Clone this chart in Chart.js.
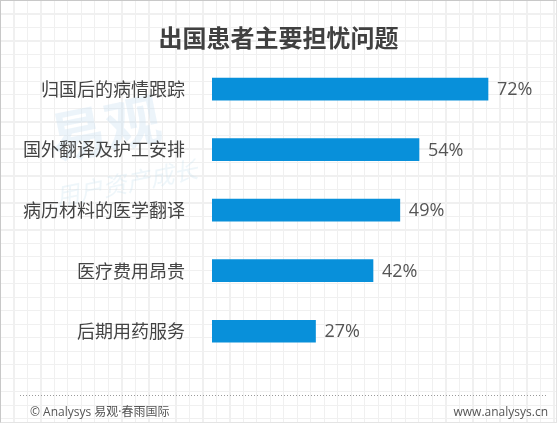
<!DOCTYPE html>
<html>
<head>
<meta charset="utf-8">
<script src="https://cdn.jsdelivr.net/npm/chart.js@4/dist/chart.umd.min.js"></script>
<style>
  html, body { margin: 0; padding: 0; }
  body {
    width: 557px; height: 423px; overflow: hidden; position: relative;
    background-color: #ffffff;
    background-image:
      repeating-linear-gradient(to right, #f0f0f0 0, #f0f0f0 1px, transparent 1px, transparent 13.5px),
      repeating-linear-gradient(to bottom, #f0f0f0 0, #f0f0f0 1px, transparent 1px, transparent 13.5px);
  }
  #frame { position: absolute; left: 0; top: 0; width: 555px; height: 421px; border: 1px solid #c8c8c8; border-right-color: #e4e4e4; border-bottom-color: #e4e4e4; }
  #wrap { position: absolute; left: 0; top: 0; width: 557px; height: 423px; }
</style>
</head>
<body>
<div id="frame"></div>
<div id="wrap"><canvas id="c" width="557" height="423"></canvas></div>
<script>
const titleText = '出国患者主要担忧问题';
const categories = ['归国后的病情跟踪', '国外翻译及护工安排', '病历材料的医学翻译', '医疗费用昂贵', '后期用药服务'];
const values = [72, 54, 49, 42, 27];
const footerLeft = '© Analysys 易观·春雨国际';
const footerRight = 'www.analysys.cn';

const FONT = '"Noto Sans CJK SC", "Noto Sans", sans-serif';

const decor = {
  id: 'decor',
  beforeDraw(chart) {
    const ctx = chart.ctx;
    ctx.save();
    // watermark
    ctx.translate(105, 128);
    ctx.rotate(-0.2);
    ctx.fillStyle = 'rgba(200, 224, 240, 0.35)';
    ctx.font = 'bold 56px ' + FONT;
    ctx.textAlign = 'center';
    ctx.textBaseline = 'middle';
    ctx.fillText('易观', 0, 0);
    ctx.font = 'italic 24px ' + FONT;
    ctx.fillStyle = 'rgba(200, 224, 240, 0.3)';
    ctx.fillText('用户资产成长', 10, 58);
    ctx.restore();
  },
  afterDraw(chart) {
    const ctx = chart.ctx;
    const meta = chart.getDatasetMeta(0);
    ctx.save();
    ctx.font = '18px "Open Sans", "Noto Sans", sans-serif';
    ctx.fillStyle = '#555555';
    ctx.textAlign = 'left';
    ctx.textBaseline = 'middle';
    meta.data.forEach((bar, i) => {
      ctx.fillText(values[i] + '%', bar.x + 9, bar.y + 1);
    });
    // footer dotted line
    ctx.strokeStyle = '#9a9a9a';
    ctx.lineWidth = 1;
    ctx.setLineDash([1, 2]);
    ctx.beginPath();
    ctx.moveTo(20, 395.5);
    ctx.lineTo(547, 395.5);
    ctx.stroke();
    ctx.setLineDash([]);
    ctx.font = '12px "Open Sans", "Noto Sans CJK SC", sans-serif';
    ctx.fillStyle = '#555555';
    ctx.textAlign = 'left';
    ctx.fillText(footerLeft, 30, 413);
    ctx.textAlign = 'right';
    ctx.fillText(footerRight, 548, 413);
    ctx.restore();
  }
};

new Chart(document.getElementById('c'), {
  type: 'bar',
  data: {
    labels: categories,
    datasets: [{
      data: values,
      backgroundColor: '#0890da',
      borderWidth: 0,
      barThickness: 22
    }]
  },
  options: {
    indexAxis: 'y',
    responsive: false,
    animation: false,
    layout: { padding: { top: 0, bottom: 61.5, left: 0, right: 0 } },
    plugins: {
      legend: { display: false },
      tooltip: { enabled: false },
      title: {
        display: true,
        text: titleText,
        color: '#404040',
        font: { family: FONT, size: 24, weight: 'bold', lineHeight: 1.2 },
        padding: { top: 23.6, bottom: 6.4 }
      }
    },
    scales: {
      x: {
        display: false,
        min: 0,
        max: 90,
      },
      y: {
        afterFit(scale) { scale.width = 212; },
        grid: { display: false },
        border: { display: false },
        ticks: {
          color: '#444444',
          padding: 19,
          font: { family: FONT, size: 18 }
        }
      }
    }
  },
  plugins: [decor]
});
</script>
</body>
</html>
